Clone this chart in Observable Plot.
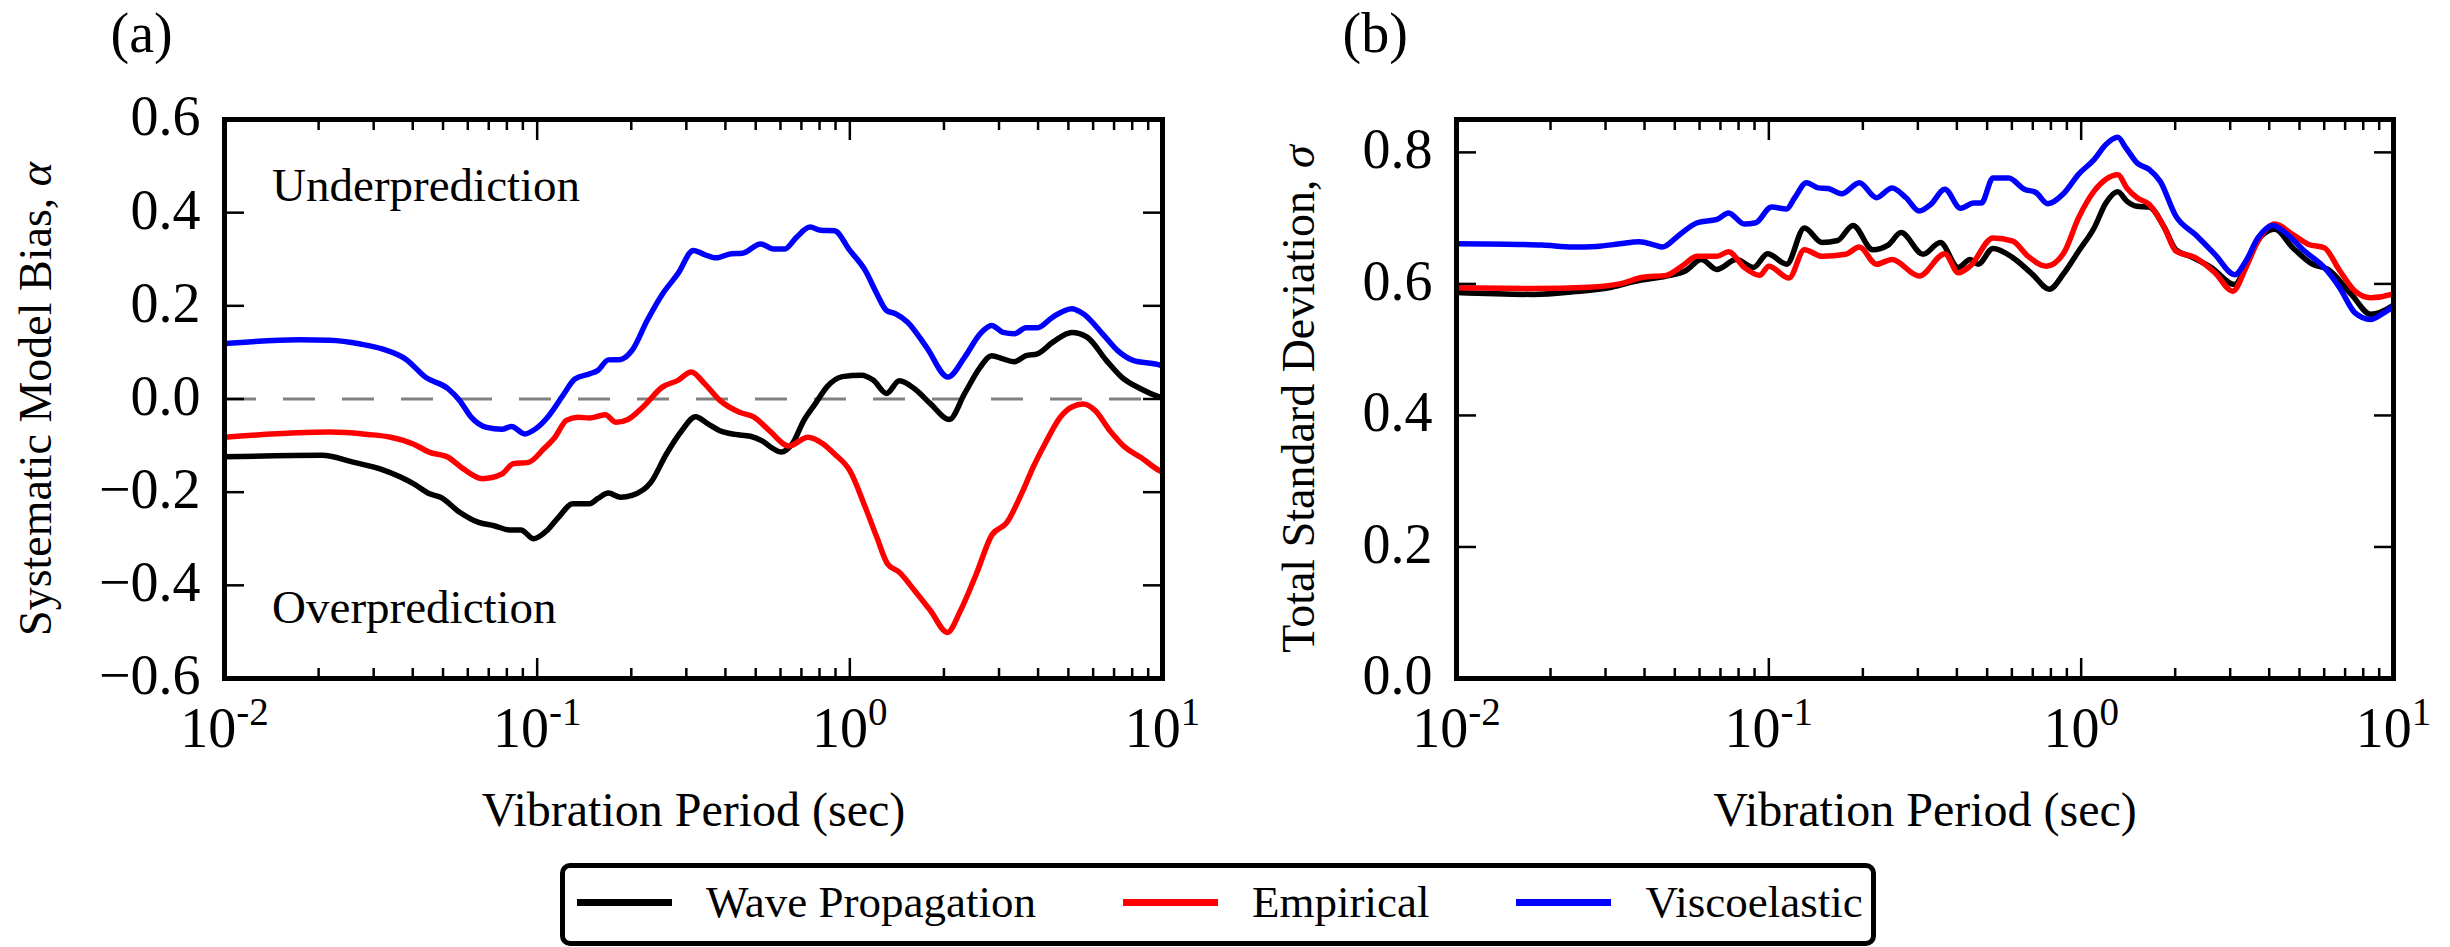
<!DOCTYPE html>
<html>
<head>
<meta charset="utf-8">
<script src="https://cdn.jsdelivr.net/npm/d3@7"></script>
<script src="https://cdn.jsdelivr.net/npm/@observablehq/plot@0.6"></script>
<style>
html, body { margin: 0; padding: 0; background: #fff; }
#fig { position: relative; width: 2450px; height: 947px; background: #fff; overflow: hidden;
       font-family: "Liberation Serif", "Times New Roman", serif; color: #000; }
.panel { position: absolute; top: 0; }
#legend { position: absolute; left: 560px; top: 863px; width: 1316px; height: 83px; box-sizing: border-box;
          border: 5px solid #000; border-radius: 10px; display: flex; align-items: center;
          padding-left: 12px; padding-bottom: 5px; font-size: 45px; line-height: 1; white-space: nowrap; }
.item { display: flex; align-items: center; margin-right: 87px; flex-shrink: 0; }
.item:last-child { margin-right: 0; }
.swatch { width: 95px; height: 7px; margin-right: 34px; flex-shrink: 0; }
</style>
</head>
<body>
<div id="fig"></div>
<script>
// ---------- data ----------
const seriesNames = ["Wave Propagation", "Empirical", "Viscoelastic"];
const seriesColors = ["#000000", "#ff0000", "#0000ff"];

const xMajorTicks = [0.01, 0.1, 1, 10];
const xMinorTicks = [0.02,0.03,0.04,0.05,0.06,0.07,0.08,0.09,0.2,0.3,0.4,0.5,0.6,0.7,0.8,0.9,2,3,4,5,6,7,8,9];
const biasTicks = [-0.6, -0.4, -0.2, 0, 0.2, 0.4, 0.6];
const sigmaTicks = [0, 0.2, 0.4, 0.6, 0.8];

const panelLabels = ["(a)", "(b)"];
const xTitle = "Vibration Period (sec)";
const biasTitle = "Systematic Model Bias, α";
const sigmaTitle = "Total Standard Deviation, σ";
const biasNotes = ["Underprediction", "Overprediction"];

// Panel (a): systematic model bias
const biasWavePeriod = [0.0100,0.0205,0.0256,0.0321,0.0403,0.0451,0.0491,0.0565,0.0650,0.0728,0.0815,0.0887,0.0975,0.108,0.117,0.130,0.147,0.156,0.169,0.185,0.201,0.231,0.259,0.290,0.321,0.353,0.384,0.430,0.481,0.524,0.570,0.603,0.655,0.713,0.776,0.845,0.946,1.09,1.19,1.31,1.44,1.61,1.81,2.08,2.33,2.61,2.84,3.09,3.36,3.66,3.98,4.46,5.13,5.74,6.61,7.40,8.51,9.79,10.0];
const biasWave = [-0.124,-0.121,-0.135,-0.152,-0.182,-0.203,-0.211,-0.243,-0.265,-0.272,-0.281,-0.281,-0.300,-0.281,-0.254,-0.225,-0.225,-0.214,-0.202,-0.211,-0.207,-0.179,-0.118,-0.068,-0.038,-0.054,-0.068,-0.076,-0.080,-0.090,-0.107,-0.114,-0.096,-0.046,-0.010,0.026,0.048,0.051,0.040,0.012,0.039,0.022,-0.010,-0.044,0.012,0.068,0.093,0.086,0.080,0.093,0.097,0.122,0.143,0.133,0.083,0.047,0.022,0.004,0.002];

const biasEmpPeriod = [0.0100,0.0217,0.0287,0.0340,0.0403,0.0451,0.0519,0.0581,0.0668,0.0771,0.0838,0.0938,0.105,0.114,0.124,0.135,0.147,0.165,0.179,0.195,0.218,0.252,0.282,0.311,0.343,0.384,0.442,0.494,0.553,0.638,0.735,0.820,0.893,1.00,1.12,1.22,1.32,1.44,1.61,1.81,2.05,2.26,2.54,2.84,3.18,3.56,3.86,4.21,4.71,5.13,5.58,6.07,6.79,7.60,8.51,9.79,10.0];
const biasEmp = [-0.082,-0.071,-0.076,-0.082,-0.097,-0.114,-0.125,-0.150,-0.171,-0.161,-0.139,-0.136,-0.107,-0.082,-0.046,-0.039,-0.041,-0.034,-0.050,-0.044,-0.017,0.026,0.040,0.058,0.033,-0.003,-0.028,-0.039,-0.068,-0.101,-0.082,-0.096,-0.118,-0.154,-0.232,-0.297,-0.354,-0.372,-0.411,-0.454,-0.501,-0.454,-0.375,-0.293,-0.265,-0.200,-0.146,-0.096,-0.039,-0.017,-0.011,-0.024,-0.068,-0.104,-0.125,-0.154,-0.157];

const biasViscoPeriod = [0.0100,0.0173,0.0217,0.0272,0.0321,0.0381,0.0439,0.0519,0.0565,0.0615,0.0689,0.0771,0.0828,0.0912,0.0993,0.108,0.121,0.132,0.147,0.156,0.169,0.185,0.201,0.225,0.252,0.282,0.316,0.343,0.373,0.418,0.454,0.518,0.570,0.619,0.675,0.746,0.807,0.893,1.00,1.12,1.22,1.31,1.40,1.53,1.76,2.06,2.33,2.61,2.84,3.09,3.36,3.66,3.98,4.46,5.13,5.58,6.43,7.19,8.05,9.79,10.0];
const biasVisco = [0.119,0.127,0.126,0.118,0.107,0.085,0.047,0.022,-0.003,-0.039,-0.061,-0.065,-0.059,-0.075,-0.063,-0.039,0.008,0.043,0.054,0.061,0.084,0.085,0.104,0.169,0.226,0.269,0.319,0.310,0.303,0.312,0.313,0.333,0.322,0.322,0.347,0.369,0.362,0.361,0.319,0.276,0.226,0.190,0.183,0.165,0.111,0.047,0.090,0.140,0.158,0.143,0.140,0.153,0.153,0.176,0.194,0.183,0.140,0.104,0.083,0.073,0.070];

// Panel (b): total standard deviation
const sigmaWavePeriod = [0.0100,0.0177,0.0236,0.0314,0.0373,0.0470,0.0542,0.0608,0.0682,0.0787,0.0893,0.0991,0.114,0.130,0.148,0.166,0.186,0.215,0.241,0.265,0.312,0.354,0.404,0.441,0.468,0.522,0.604,0.697,0.791,0.877,0.982,1.10,1.20,1.31,1.40,1.51,1.65,1.85,2.01,2.26,2.61,3.10,3.48,3.78,4.17,4.76,5.50,6.17,7.33,8.45,9.86,10.0];
const sigmaWave = [0.587,0.584,0.588,0.595,0.604,0.612,0.620,0.637,0.622,0.637,0.625,0.646,0.630,0.685,0.663,0.666,0.689,0.652,0.659,0.678,0.645,0.663,0.625,0.637,0.630,0.654,0.640,0.615,0.592,0.615,0.650,0.685,0.723,0.740,0.726,0.718,0.717,0.685,0.652,0.641,0.625,0.599,0.645,0.673,0.683,0.655,0.630,0.622,0.584,0.554,0.566,0.568];

const sigmaEmpPeriod = [0.0100,0.0177,0.0265,0.0333,0.0395,0.0470,0.0527,0.0590,0.0682,0.0743,0.0834,0.0935,0.100,0.116,0.130,0.148,0.176,0.195,0.221,0.248,0.303,0.366,0.404,0.441,0.522,0.604,0.676,0.773,0.877,0.982,1.10,1.20,1.31,1.40,1.51,1.65,1.85,2.01,2.32,2.68,3.06,3.37,3.68,4.17,4.76,5.35,6.00,6.73,7.53,8.45,9.86,10.0];
const sigmaEmp = [0.594,0.593,0.595,0.600,0.610,0.613,0.627,0.642,0.642,0.649,0.625,0.613,0.627,0.609,0.652,0.642,0.645,0.656,0.630,0.637,0.612,0.646,0.617,0.627,0.670,0.665,0.642,0.627,0.646,0.701,0.741,0.759,0.766,0.746,0.731,0.721,0.685,0.650,0.640,0.617,0.589,0.625,0.665,0.691,0.675,0.660,0.655,0.620,0.589,0.579,0.584,0.585];

const sigmaViscoPeriod = [0.0100,0.0158,0.0188,0.0236,0.0281,0.0333,0.0385,0.0431,0.0456,0.0512,0.0590,0.0682,0.0743,0.0834,0.0908,0.102,0.114,0.121,0.132,0.144,0.155,0.171,0.195,0.221,0.248,0.275,0.303,0.330,0.366,0.411,0.453,0.479,0.522,0.586,0.658,0.716,0.782,0.877,0.982,1.10,1.20,1.31,1.39,1.51,1.65,1.79,2.01,2.32,2.68,3.10,3.37,3.68,4.12,4.50,5.19,6.00,6.73,7.53,8.45,9.23,9.86,10.0];
const sigmaVisco = [0.661,0.660,0.659,0.656,0.657,0.661,0.664,0.659,0.656,0.673,0.693,0.698,0.708,0.691,0.693,0.717,0.714,0.731,0.754,0.746,0.745,0.737,0.754,0.731,0.746,0.731,0.711,0.721,0.744,0.715,0.723,0.723,0.761,0.761,0.744,0.739,0.722,0.737,0.767,0.789,0.812,0.823,0.807,0.784,0.774,0.756,0.703,0.675,0.645,0.614,0.635,0.670,0.689,0.678,0.650,0.625,0.594,0.556,0.546,0.555,0.564,0.567];

// ---------- build ----------
function rows(periods, values) { return periods.map((p, i) => ({period: p, value: values[i]})); }

const biasSeries = [rows(biasWavePeriod, biasWave), rows(biasEmpPeriod, biasEmp), rows(biasViscoPeriod, biasVisco)];
const sigmaSeries = [rows(sigmaWavePeriod, sigmaWave), rows(sigmaEmpPeriod, sigmaEmp), rows(sigmaViscoPeriod, sigmaVisco)];

const FONT = "'Liberation Serif', 'Times New Roman', serif";
const fmtY = d => d.toFixed(1).replace("-", "\u2212");

function frameAxes(yTicks) {
  const common = {strokeWidth: 2.5, tickFormat: () => "", label: null};
  return [
    Plot.frame({strokeWidth: 5}),
    Plot.axisX(xMajorTicks, {...common, anchor: "bottom", tickSize: -20}),
    Plot.axisX(xMinorTicks, {...common, anchor: "bottom", tickSize: -10}),
    Plot.axisX(xMajorTicks, {...common, anchor: "top", tickSize: -20}),
    Plot.axisX(xMinorTicks, {...common, anchor: "top", tickSize: -10}),
    Plot.axisY(yTicks, {...common, anchor: "left", tickSize: -20}),
    Plot.axisY(yTicks, {...common, anchor: "right", tickSize: -20}),
    Plot.axisX(xMajorTicks, {anchor: "bottom", tickSize: 0, tickPadding: 29, fontSize: 56, label: null,
      tickFormat: d => "10^" + Math.round(Math.log10(d))}),
    Plot.axisY(yTicks, {anchor: "left", tickSize: 0, tickPadding: 24, fontSize: 56, label: null, dy: -2,
      tickFormat: fmtY}),
    Plot.text([xTitle], {frameAnchor: "bottom", dy: 147, lineAnchor: "bottom", fontSize: 48, text: d => d})
  ];
}

function seriesLines(series) {
  return series.map((data, i) => Plot.line(data, {
    x: "period", y: "value", stroke: seriesColors[i], strokeWidth: 5.5,
    curve: "monotone-x", strokeLinejoin: "round", strokeLinecap: "butt"
  }));
}

function postProcess(svg) {
  d3.select(svg).selectAll("text").each(function () {
    const s = this.textContent;
    if (s.includes("^")) {
      const [b, e] = s.split("^");
      this.textContent = b;
      d3.select(this).append("tspan").attr("dy", -22).attr("font-size", 39).text(e);
      return;
    }
    const m = s.match(/^(.*)([ασ])$/);
    if (m) {
      this.textContent = m[1];
      d3.select(this).append("tspan").attr("font-style", "italic").text(m[2]);
    }
  });
  return svg;
}

const styleStr = `background: transparent; overflow: visible; max-width: none; font-family: ${FONT}; color: #000;`;

const plotA = Plot.plot({
  width: 1230, height: 860,
  marginLeft: 224, marginRight: 68, marginTop: 119, marginBottom: 182,
  style: styleStr,
  x: {type: "log", domain: [0.01, 10], axis: null, label: null},
  y: {domain: [-0.6, 0.6], axis: null, label: null},
  marks: [
    Plot.ruleY([0], {stroke: "#808080", strokeWidth: 3, strokeDasharray: "32,27"}),
    ...seriesLines(biasSeries),
    ...frameAxes(biasTicks),
    Plot.text([biasTitle], {frameAnchor: "left", rotate: -90, dx: -174, lineAnchor: "bottom", textAnchor: "middle", fontSize: 46, text: d => d}),
    Plot.text([panelLabels[0]], {frameAnchor: "top-left", dx: -114, dy: -68, lineAnchor: "bottom", textAnchor: "start", fontSize: 56, text: d => d}),
    Plot.text([biasNotes[0]], {x: 0.0142, y: 0.426, lineAnchor: "bottom", textAnchor: "start", fontSize: 47, text: d => d}),
    Plot.text([biasNotes[1]], {x: 0.0142, y: -0.480, lineAnchor: "bottom", textAnchor: "start", fontSize: 47, text: d => d})
  ]
});

const plotB = Plot.plot({
  width: 1220, height: 860,
  marginLeft: 226, marginRight: 57, marginTop: 119, marginBottom: 182,
  style: styleStr,
  x: {type: "log", domain: [0.01, 10], axis: null, label: null},
  y: {domain: [0, 0.85], axis: null, label: null},
  marks: [
    ...seriesLines(sigmaSeries),
    ...frameAxes(sigmaTicks),
    Plot.text([sigmaTitle], {frameAnchor: "left", rotate: -90, dx: -143, lineAnchor: "bottom", textAnchor: "middle", fontSize: 46, text: d => d}),
    Plot.text([panelLabels[1]], {frameAnchor: "top-left", dx: -114, dy: -68, lineAnchor: "bottom", textAnchor: "start", fontSize: 56, text: d => d})
  ]
});

const fig = document.getElementById("fig");
[[plotA, 0], [plotB, 1230]].forEach(([p, left]) => {
  postProcess(p);
  p.classList.add("panel");
  p.style.position = "absolute";
  p.style.left = left + "px";
  p.style.top = "0px";
  fig.appendChild(p);
});

// legend
const legend = document.createElement("div");
legend.id = "legend";
seriesNames.forEach((name, i) => {
  const item = document.createElement("div");
  item.className = "item";
  const sw = document.createElement("div");
  sw.className = "swatch";
  sw.style.background = seriesColors[i];
  const lab = document.createElement("span");
  lab.textContent = name;
  item.appendChild(sw);
  item.appendChild(lab);
  legend.appendChild(item);
});
fig.appendChild(legend);
</script>
</body>
</html>
